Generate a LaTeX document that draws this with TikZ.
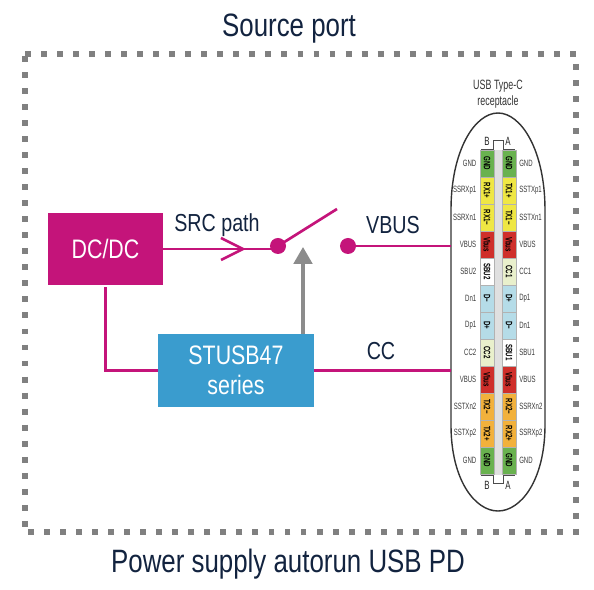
\documentclass[tikz,border=0pt]{standalone}
\usepackage{fontspec}
\setmainfont[FakeStretch=0.8]{Liberation Sans}
\newfontfamily\narrowfont[FakeStretch=0.66]{Liberation Sans}
\usepackage{xcolor}
\usepackage{tikz}
\usetikzlibrary{arrows.meta, positioning}

\definecolor{stpink}{HTML}{C4147A}
\definecolor{stblue}{HTML}{3A9CCE}
\definecolor{stnavy}{HTML}{12233F}
\definecolor{pingreen}{HTML}{69B24F}
\definecolor{pinyellow}{HTML}{EFE744}
\definecolor{pinred}{HTML}{CF2F2B}
\definecolor{pinwhite}{HTML}{FFFFFF}
\definecolor{pincyan}{HTML}{B5DCE8}
\definecolor{pincream}{HTML}{E9F0CC}
\definecolor{pinorange}{HTML}{F2B13C}

\begin{document}
\begin{tikzpicture}[
  x=0.025cm, y=-0.025cm,
  heading/.style={
    text=stnavy,
    font=\fontsize{23}{27}\selectfont
  },
  label/.style={
    text=stnavy,
    font=\fontsize{17.5}{20}\selectfont
  },
  block/.style={
    text=white,
    align=center,
    inner sep=0pt,
    font=\fontsize{19}{21}\selectfont
  },
  wire/.style={
    draw=stpink,
    line width=1.9pt
  },
  contact/.style={
    circle,
    fill=stpink,
    minimum size=0.4cm,
    inner sep=0pt
  },
  pin/.style={
    minimum width=0.34cm,
    minimum height=0.675cm,
    inner sep=0pt,
    draw=black!30,
    line width=0.2pt,
    font=\narrowfont\fontsize{6.6}{7}\selectfont\bfseries
  },
  outer/.style={
    text=black!78,
    inner sep=0pt,
    font=\narrowfont\fontsize{6.5}{7}\selectfont
  },
  side/.style={
    text=black!85,
    inner sep=0pt,
    font=\narrowfont\fontsize{8.5}{9}\selectfont
  },
  edgedots/.style={
    draw=black!50,
    line width=4.2pt,
    dash pattern=on 4.2pt off 7.2pt
  },
  bridge/.style={
    draw=black!70,
    line width=0.6pt
  }
]
\useasboundingbox (0,0) rectangle (594,590);

% Border
\draw[edgedots] (25,54) -- (576,54);
\draw[edgedots] (576,64) -- (576,532);
\draw[edgedots] (579,532) -- (25,532);
\draw[edgedots] (25,56) -- (25,532);

% Titles
\node[heading] (title) at (289,29) {Source port};
\node[heading] (footer) at (288,564) {Power supply autorun USB PD};

% Blocks
\node[block, fill=stpink, minimum width=2.875cm, minimum height=1.8cm] (dcdc) at (105.5,249) {DC/DC};
\node[block, fill=stblue, minimum width=3.9cm, minimum height=1.825cm] (stusb) at (236,370.5) {STUSB47\\series};

% Receptacle outline
\draw[black!80, line width=1pt] (451,210)
  .. controls (451,150) and (475,113) .. (498,113)
  .. controls (521,113) and (545,150) .. (545,210)
  -- (545,425)
  .. controls (545,480) and (521,511) .. (498,511)
  .. controls (475,511) and (451,480) .. (451,425)
  -- cycle;
\coordinate (vbusin) at (451,246);
\coordinate (ccin) at (451,370.5);

% Receptacle labels
\node[outer, align=center, text=black!80, font=\narrowfont\fontsize{9.6}{11.4}\selectfont] (usbtitle) at (498,94.5) {USB Type-C\\receptacle};
\node[side] (topb) at (487,141) {B};
\node[side] (topa) at (508,141) {A};
\node[side] (botb) at (487,485) {B};
\node[side] (bota) at (508,485) {A};

% Bridges
\draw[bridge] (481,149) -- (493,149) -- (493,140) -- (503,140) -- (503,149) -- (515,149);
\draw[bridge] (481,475) -- (493,475) -- (493,483) -- (503,483) -- (503,475) -- (515,475);

% Middle strip
\fill[black!12] (494,150) rectangle (502,475);

% Pins
\foreach \i/\lname/\lpin/\lcol/\rpin/\rcol/\rname in {
  0/GND/GND/pingreen/GND/pingreen/GND,
  1/SSRXp1/RX1+/pinyellow/TX1+/pinyellow/SSTXp1,
  2/SSRXn1/RX1−/pinyellow/TX1−/pinyellow/SSTXn1,
  3/VBUS/Vbus/pinred/Vbus/pinred/VBUS,
  4/SBU2/SBU2/pinwhite/CC1/pincream/CC1,
  5/Dn1/D−/pincyan/D+/pincyan/Dp1,
  6/Dp1/D+/pincyan/D−/pincyan/Dn1,
  7/CC2/CC2/pincream/SBU1/pinwhite/SBU1,
  8/VBUS/Vbus/pinred/Vbus/pinred/VBUS,
  9/SSTXn2/TX2−/pinorange/RX2−/pinorange/SSRXn2,
  10/SSTXp2/TX2+/pinorange/RX2+/pinorange/SSRXp2,
  11/GND/GND/pingreen/GND/pingreen/GND
}{
  \node[pin, fill=\lcol] (lp\i) at (487,163.5+27*\i) {\rotatebox{-90}{\lpin}};
  \node[pin, fill=\rcol] (rp\i) at (509,163.5+27*\i) {\rotatebox{-90}{\rpin}};
  \node[outer, anchor=east] (ln\i) at (476.5,163.5+27*\i) {\lname};
  \node[outer, anchor=west] (rn\i) at (519,163.5+27*\i) {\rname};
}

% Switch
\node[contact] (swa) at (278,246) {};
\node[contact] (swb) at (348,246) {};
\coordinate (swtip) at (337,209);

% Wires
\draw[wire] (dcdc.east) -- (dcdc.east -| swa.center);
\draw[wire] (swa.center) -- (swtip);
\draw[wire] (swb.east) -- (vbusin);
\draw[wire] (dcdc.south) ++(0,2) |- (stusb.west);
\draw[wire] (stusb.east) -- (ccin);

% Open arrowhead on the path
\draw[wire] (221,238) -- (243,249) -- (221,260);

% Control arrow
\coordinate (armend) at (303,247);
\draw[draw=black!45, line width=2.4pt, -{Triangle[length=0.42cm,width=0.46cm]}] (stusb.north -| armend) -- (armend);

% Wire labels
\node[label] (srclabel) at (217,225) {SRC path};
\node[label] (vbuslabel) at (393,225) {VBUS};
\node[label] (cclabel) at (381,351) {CC};

\end{tikzpicture}
\end{document}
